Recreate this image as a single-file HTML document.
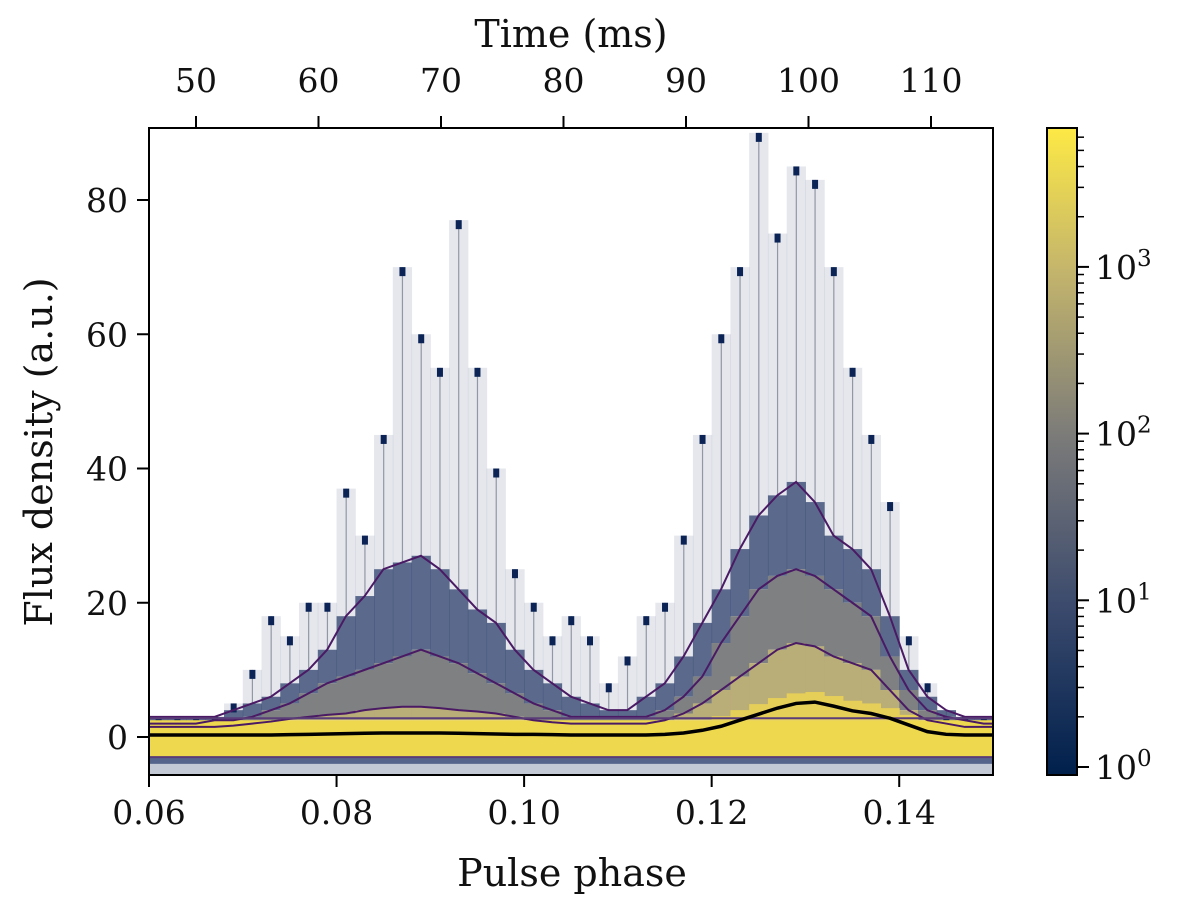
<!DOCTYPE html>
<html><head><meta charset="utf-8"><style>
body{margin:0;background:#fff}
svg text{font-family:"DejaVu Serif","Liberation Serif",serif;fill:#111}
</style></head><body>
<svg id="s" width="1200" height="913" viewBox="0 0 1200 913" xmlns="http://www.w3.org/2000/svg">
<defs>
<linearGradient id="cb" x1="0" y1="1" x2="0" y2="0">
<stop offset="0" stop-color="#00204c"/><stop offset="0.26" stop-color="#3b4a6d"/><stop offset="0.52" stop-color="#7a7a79"/><stop offset="0.78" stop-color="#c4b56c"/><stop offset="1" stop-color="#fde945"/>
</linearGradient>
<clipPath id="pc"><rect x="149" y="128" width="844" height="647"/></clipPath>
</defs>
<g id="plot" clip-path="url(#pc)"></g>
<rect x="149" y="128" width="844" height="647" fill="none" stroke="#000" stroke-width="2"/>
<g id="axes"></g>
<text x="571" y="47" font-size="38" text-anchor="middle">Time (ms)</text>
<text x="572" y="886" font-size="38" text-anchor="middle">Pulse phase</text>
<text transform="translate(52,452) rotate(-90)" font-size="38" text-anchor="middle">Flux density (a.u.)</text>
<rect x="1047" y="128" width="30" height="647" fill="url(#cb)" stroke="#000" stroke-width="2"/>
</svg>
<script>
const phases=[0.06,0.062,0.064,0.066,0.068,0.07,0.072,0.074,0.076,0.078,0.08,0.082,0.084,0.086,0.088,0.09,0.092,0.094,0.096,0.098,0.10,0.102,0.104,0.106,0.108,0.11,0.112,0.114,0.116,0.118,0.12,0.122,0.124,0.126,0.128,0.13,0.132,0.134,0.136,0.138,0.14,0.142,0.144,0.146,0.148];
const meanFlux=[0.3,0.3,0.3,0.3,0.3,0.3,0.3,0.35,0.4,0.45,0.5,0.55,0.6,0.6,0.6,0.6,0.55,0.5,0.45,0.4,0.4,0.35,0.3,0.3,0.3,0.3,0.3,0.4,0.6,1.0,1.6,2.5,3.4,4.3,5.0,5.2,4.6,3.9,3.5,2.8,1.8,0.8,0.4,0.3,0.3];
const envelope=[3,3,3,3,5,10,18,15,20,20,37,30,45,70,60,55,77,55,40,25,20,15,18,15,8,12,18,20,30,45,60,70,90,75,85,83,70,55,45,35,15,8,3,3,3];
const denseTop=[3,3,3,3,4,5,6,8,10,13,18,21,25,26,27,25,22,19,17,13,10,8,6,5,4,4,6,8,12,17,22,28,33,36,38,35,30,28,25,18,10,6,4,3,3];
const contour2=[2,2,2,2.5,2.5,3,4,5,6.5,8,9,10,11,12,13,12,11,9.5,8,6.5,5,4,3,3,3,3,3,4,6,9,14,18,22,24,25,24,22,20,18,12,7,4,3,2.5,2];
const contour3=[1.5,1.5,1.5,1.5,1.7,2,2.3,2.7,3,3.3,3.5,4,4.3,4.5,4.5,4.3,4,3.8,3.5,3,2.5,2.2,2,2,2,2,2,2.5,3.5,5,7,9,11,13,14,13.5,12,11,10,7,4,2.5,2,1.5,1.5];
const xTicks=[0.06,0.08,0.10,0.12,0.14];
const xTickLabels=["0.06","0.08","0.10","0.12","0.14"];
const yTicks=[0,20,40,60,80];
const timeTicks=[50,60,70,80,90,100,110];
const cbTicks=[0,1,2,3];
const NS="http://www.w3.org/2000/svg";
const X=p=>149+(p-0.06)/0.09*844;
const Y=v=>737-v*6.7125;
const T=t=>196+(t-50)*12.25;
const CB=e=>767-e*166.7;
const plot=document.getElementById('plot'),axes=document.getElementById('axes');
function mk(par,tag,a){const e=document.createElementNS(NS,tag);for(const k in a)e.setAttribute(k,a[k]);par.appendChild(e);return e;}
const bw=0.002;
phases.forEach((p,i)=>{
  const x0=X(p),w=X(p+bw)-x0+0.5;
  const layers=[[envelope[i],denseTop[i],'#2a3c68',0.12],[denseTop[i],contour2[i],'#3e5078',0.85],[contour2[i],contour3[i],'#7f8081',1],[contour3[i],2.5,'#b9ad78',1]];
  const sp=mk(plot,'line',{x1:x0+w/2,x2:x0+w/2,y1:Y(envelope[i]),y2:Y(denseTop[i]),stroke:'#a0a4ac','stroke-width':1.2});
  
  
  layers.forEach(L=>{
    if(L[0]<=L[1])return;
    const r=mk(plot,'rect',{x:x0,y:Y(L[0]),width:w,height:Y(L[1])-Y(L[0]),fill:L[2],opacity:L[3]});
    
    
  });
  const tip=mk(plot,'rect',{x:x0+w/2-3,y:Y(envelope[i]),width:6,height:9,fill:'#0b2455'});
  
  
});
const core=mk(plot,'rect',{x:149,y:Y(2.5),width:844,height:Y(-3)-Y(2.5),fill:'#eed84e'});


const low=mk(plot,'rect',{x:149,y:Y(-3),width:844,height:Y(-5.8)-Y(-3),fill:'#c4c9d6'});


const low2=mk(plot,'rect',{x:149,y:Y(-3),width:844,height:Y(-4)-Y(-3),fill:'#55648a'});


phases.forEach((p,i)=>{
  if(meanFlux[i]>1){
    const r=mk(plot,'rect',{x:X(p),y:Y(meanFlux[i]+1.5),width:X(p+bw)-X(p)+0.5,height:Y(2.5)-Y(meanFlux[i]+1.5),fill:'#e6cf58'});
    
    
  }
});
function line(arr,col,wd,name){
  const pts=phases.map((p,i)=>X(p+bw/2)+','+Y(arr[i])).join(' ');
  const l=mk(plot,'polyline',{points:(X(0.06)+','+Y(arr[0]))+' '+pts+' '+(X(0.15)+','+Y(arr[arr.length-1])),fill:'none',stroke:col,'stroke-width':wd});
  
  
}
line(denseTop,'#4a1a64',2,'contour-outer');
line(contour2,'#4a1a64',2,'contour-middle');
line(contour3,'#4a1a64',2,'contour-inner');
const hl=mk(plot,'line',{x1:149,x2:993,y1:Y(2.8),y2:Y(2.8),stroke:'#5a3d78','stroke-width':2});


const hl2=mk(plot,'line',{x1:149,x2:993,y1:Y(-3),y2:Y(-3),stroke:'#5a3d78','stroke-width':2});


line(meanFlux,'#000',3.5,'mean-profile');
xTicks.forEach((t,i)=>{
  const x=X(t);
  const tk=mk(axes,'line',{x1:x,x2:x,y1:775,y2:787,stroke:'#000','stroke-width':2});
  
  
  const tx=mk(axes,'text',{x:x,y:824,'font-size':33,'text-anchor':'middle'});tx.textContent=xTickLabels[i];
  
  
});
yTicks.forEach(v=>{
  const y=Y(v);
  const tk=mk(axes,'line',{x1:137,x2:149,y1:y,y2:y,stroke:'#000','stroke-width':2});
  
  
  const tx=mk(axes,'text',{x:128,y:y+12,'font-size':33,'text-anchor':'end'});tx.textContent=v;
  
  
});
timeTicks.forEach(t=>{
  const x=T(t);
  const tk=mk(axes,'line',{x1:x,x2:x,y1:128,y2:116,stroke:'#000','stroke-width':2});
  
  
  const tx=mk(axes,'text',{x:x,y:92,'font-size':33,'text-anchor':'middle'});tx.textContent=t;
  
  
});
cbTicks.forEach(e=>{
  const y=CB(e);
  const tk=mk(axes,'line',{x1:1077,x2:1089,y1:y,y2:y,stroke:'#000','stroke-width':2});
  
  
  const tx=mk(axes,'text',{x:1095,y:y+12,'font-size':33});tx.textContent='10';
  const sup=mk(tx,'tspan',{dy:-13,'font-size':23});sup.textContent=e;
  
  
  for(let m=2;m<10;m++){
    const ym=CB(e+Math.log10(m));
    if(ym<128)continue;
    const mt=mk(axes,'line',{x1:1077,x2:1084,y1:ym,y2:ym,stroke:'#000','stroke-width':1.5});
    
    
  }
});
</script>
</body></html>
